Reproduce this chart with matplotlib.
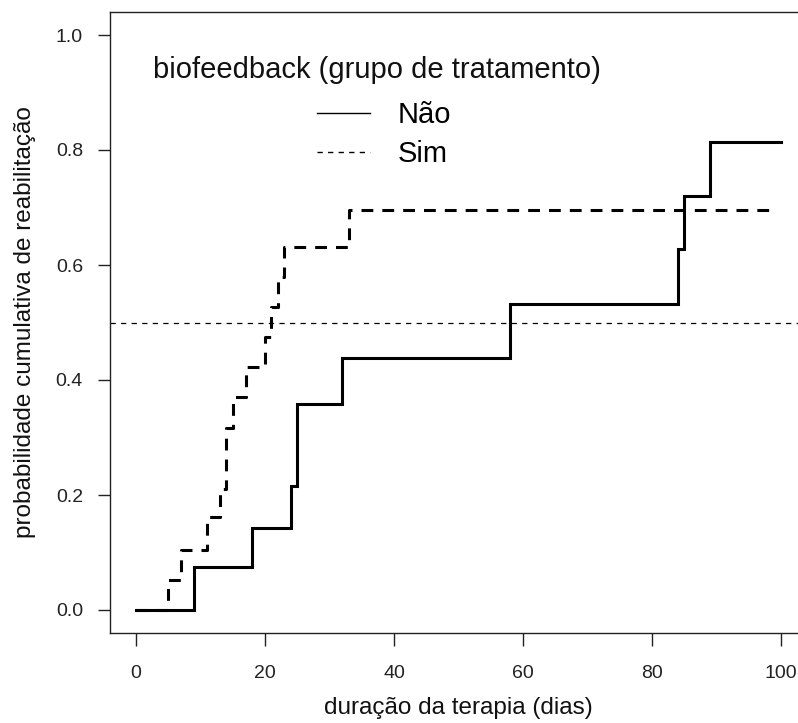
import matplotlib
matplotlib.use("Agg")
import matplotlib.pyplot as plt
from matplotlib.lines import Line2D

plt.rcParams['font.family'] = ['Liberation Sans', 'DejaVu Sans']
plt.rcParams['lines.scale_dashes'] = False

# Data
nao_t = [0, 9, 18, 24, 25, 32, 58, 84, 85, 89, 100]
nao_s = [0, 0.074, 0.143, 0.216, 0.359, 0.439, 0.533, 0.627, 0.720, 0.814, 0.814]
sim_t = [0, 5, 7, 11, 13, 14, 15, 17, 20, 21, 22, 23, 33, 99]
sim_s = [0, 0.053, 0.105, 0.161, 0.211, 0.316, 0.371, 0.423, 0.475, 0.527, 0.579, 0.632, 0.695, 0.695]
ref_level = 0.5
x_ticks = [0, 20, 40, 60, 80, 100]
y_ticks = [0.0, 0.2, 0.4, 0.6, 0.8, 1.0]
group_labels = ["Não", "Sim"]
legend_title = "biofeedback (grupo de tratamento)"
xlabel = "duração da terapia (dias)"
ylabel = "probabilidade cumulativa de reabilitação"

W, H = 798, 723
fig = plt.figure(figsize=(W / 100, H / 100), dpi=100)
left, right, top, bottom = 110, 807, 12, 633
ax = fig.add_axes([left / W, (H - bottom) / H, (right - left) / W, (bottom - top) / H])

lw = 2.2
ax.step(nao_t, nao_s, where='post', color='black', lw=lw, solid_joinstyle='miter')
ax.step(sim_t, sim_s, where='post', color='black', lw=lw, linestyle=(0, (8.5, 6.5)))
ax.axhline(ref_level, color='black', lw=0.9, linestyle=(0, (3.8, 3.8)))

ax.set_xlim(-4, 104)
ax.set_ylim(-0.04, 1.04)
ax.set_xticks(x_ticks)
ax.set_xticklabels([str(v) for v in x_ticks])
ax.set_yticks(y_ticks)
ax.set_yticklabels([f"{v:.1f}" for v in y_ticks])
ax.tick_params(axis='both', direction='out', length=9, width=1, labelsize=14,
               colors='#222222')
ax.tick_params(axis='y', pad=10.5)
ax.tick_params(axis='x', pad=14)
for s in ax.spines.values():
    s.set_linewidth(1.0)
    s.set_color('#222222')
ax.spines['right'].set_visible(False)

ax.set_xlabel(xlabel, fontsize=17.5, labelpad=11, color='#111111')
ax.set_ylabel(ylabel, fontsize=17.5, labelpad=14, color='#111111')

handles = [Line2D([], [], color='black', lw=1.0),
           Line2D([], [], color='black', lw=1.0, linestyle=(0, (3.8, 3.8)))]
leg = ax.legend(handles, group_labels, fontsize=21, frameon=False,
                loc='upper left', bbox_to_anchor=((317 - left) / (right - left), (bottom - 101) / (bottom - top)),
                handlelength=1.83, handletextpad=0.93, labelspacing=0.38,
                borderpad=0, borderaxespad=0)
fig.text(377 / W, 1 - 70 / H, legend_title, fontsize=21, ha='center', va='center',
         color='#111111')

fig.savefig("out.png", dpi=100)
